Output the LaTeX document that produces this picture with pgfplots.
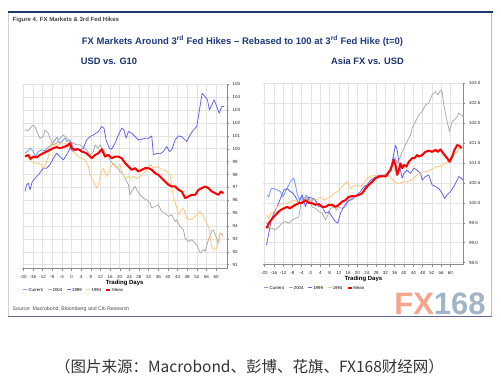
\documentclass[border=0pt]{standalone}
\usepackage{fontspec}
\setmainfont{Liberation Sans}
\newfontfamily\cjk{Noto Sans CJK SC}
\usepackage{pgfplots}
\pgfplotsset{compat=1.18}
\definecolor{curC}{HTML}{7BA3F0}
\definecolor{c99}{HTML}{6464F0}
\definecolor{c04}{HTML}{A8A8A8}
\definecolor{c94}{HTML}{FFC77A}
\definecolor{navy}{HTML}{1F3A7D}
\definecolor{gridc}{HTML}{E3E3E3}
\definecolor{axc}{HTML}{8C8C8C}
\definecolor{topline}{HTML}{1A3A6E}
\definecolor{fxorange}{HTML}{F2A68C}
\definecolor{fxblue}{HTML}{A2B5C7}
\pgfplotsset{fxstyle/.style={
  scale only axis, anchor=south west,
  axis x line*=bottom, axis y line*=right,
  grid=major, major grid style={gridc, line width=0.5pt},
  xtick={-20,-16,...,60},
  tick label style={font=\fontsize{4.5}{5}\selectfont, color=black!85},
  xticklabel style={yshift=-1.2pt},
  /pgf/number format/assume math mode=true,
  tick align=outside, major tick length=2pt,
  axis line style={axc, line width=0.5pt},
  tick style={axc, line width=0.4pt},
  xlabel={Trading Days},
  xlabel style={font=\fontsize{6}{7}\selectfont\bfseries, at={(axis description cs:0.5,0)}, anchor=center, yshift=-14.5pt},
  legend columns=-1,
  legend style={draw=none, fill=none, font=\fontsize{4.3}{5}\selectfont, anchor=west, inner sep=0pt,
     nodes={inner sep=0.8pt},
     /tikz/every odd column/.style={column sep=0pt},
     /tikz/every even column/.style={column sep=3.5pt}},
  legend image code/.code={\draw[#1] (0pt,1.5pt) -- (4pt,1.5pt);},
  every axis plot/.append style={line join=round},
}}
\begin{document}
\begin{tikzpicture}[x=1pt,y=1pt]
\path[use as bounding box] (0,0) rectangle (501,378);
% frame
\draw[black!18, line width=0.6pt] (8.3,366) -- (8.3,61);
\draw[black!25, line width=0.6pt] (491.7,366) -- (491.7,61);
\draw[topline, line width=2pt] (8,366.3) -- (492.5,366.3);
\draw[black!15!blue!20!gray, line width=1.2pt] (8,61.2) -- (492,61.2);
% texts
\node[anchor=west, font=\fontsize{6}{7}\selectfont\bfseries, color=black!75, inner sep=0pt] at (12.5,358) {Figure 4. FX Markets \& 3rd Fed Hikes};
\node[font=\fontsize{9.5}{10}\selectfont\bfseries, color=navy, inner sep=0pt] at (242.5,337) {FX Markets Around 3\textsuperscript{rd} Fed Hikes – Rebased to 100 at 3\textsuperscript{rd} Fed Hike (t=0)};
\node[font=\fontsize{9.3}{10}\selectfont\bfseries, color=navy!85!black, inner sep=0pt] at (109,316.5) {USD vs. G10};
\node[font=\fontsize{9.3}{10}\selectfont\bfseries, color=navy!85!black, inner sep=0pt] at (367.5,316.5) {Asia FX vs. USD};
\node[anchor=west, font=\fontsize{5.2}{6}\selectfont, color=black!70, inner sep=0pt] at (12.5,68.5) {Source: Macrobond, Bloomberg and Citi Research};
\node[font=\fontsize{31}{32}\selectfont\bfseries, inner sep=0pt] at (440,74) {\textcolor{fxorange}{FX}\textcolor{fxblue}{168}};
\node[font=\cjk\fontsize{15.5}{17}\selectfont, color=black!80, inner sep=0pt] at (249.5,11) {（图片来源：Macrobond、彭博、花旗、FX168财经网）};

% LEFT PANEL
\begin{axis}[fxstyle, at={(22.1pt,109.5pt)}, width=205.1pt, height=184.2pt,
  xmin=-20.5, xmax=64.6, ymin=90.7, ymax=105, ytick={91,92,...,105},
  legend style={at={(axis description cs:0,0)}, xshift=0.5pt, yshift=-22.5pt}]
\addplot[curC, line width=0.9pt] coordinates {(-19.31,99.65) (-17.92,99.86) (-16.96,100.04) (-15.85,99.78) (-14.88,99.39) (-13.77,99.78) (-12.39,99.91) (-11.00,99.86) (-9.62,100.12) (-8.24,100.30) (-6.85,100.68) (-5.88,100.89) (-5.05,100.43) (-4.08,100.56) (-2.70,100.81) (-2.01,100.56) (-1.04,100.68) (-0.21,100.56) (0.76,100.04) (1.45,99.86)};
\addlegendentry{Current}
\addplot[c04, line width=0.75pt] coordinates {(-19.31,101.46) (-17.92,101.41) (-16.54,101.72) (-15.85,101.85) (-15.16,101.72) (-13.77,101.07) (-13.08,100.81) (-11.70,100.94) (-11.00,101.46) (-9.62,101.20) (-8.93,100.81) (-7.54,100.30) (-6.16,100.43) (-4.78,100.81) (-3.39,101.07) (-2.01,100.81) (-0.62,100.56) (0.76,100.43) (2.15,100.30) (3.53,100.30) (4.91,100.12) (6.30,99.91) (7.68,99.52) (9.07,99.78) (9.76,100.30) (11.14,100.04) (11.83,100.30) (13.22,99.91) (14.60,99.52) (15.99,99.13) (17.37,98.75) (18.75,98.62) (20.14,98.23) (21.52,97.97) (22.21,97.71) (23.60,97.20) (24.29,96.42) (24.98,96.68) (26.37,97.07) (27.06,96.81) (28.44,96.42) (29.83,96.16) (31.21,96.03) (32.60,95.78) (33.29,95.39) (34.67,95.52) (36.06,95.65) (37.44,95.13) (38.82,95.00) (40.21,94.74) (41.59,94.87) (42.98,94.35) (43.67,94.48) (45.05,93.97) (46.44,93.71) (47.13,93.06) (48.51,92.80) (49.90,92.93) (51.28,92.67) (52.66,92.29) (53.36,91.90) (54.74,92.16) (55.43,92.03) (56.82,92.93) (58.20,93.58) (58.89,93.71) (59.58,93.32) (60.97,92.67) (61.66,93.45) (62.77,93.32)};
\addlegendentry{2004}
\addplot[c99, line width=0.8pt] coordinates {(-19.31,96.68) (-18.62,97.20) (-17.92,97.33) (-17.23,96.81) (-16.26,97.45) (-15.16,97.71) (-13.77,97.97) (-11.70,98.49) (-10.31,98.49) (-8.93,98.75) (-7.54,99.26) (-6.16,99.65) (-4.78,99.39) (-3.39,99.13) (-2.01,99.52) (-0.62,100.04) (0.76,99.78) (2.15,100.04) (3.53,99.91) (4.91,100.04) (6.30,100.68) (7.68,100.94) (9.07,101.07) (11.14,101.33) (12.53,101.72) (13.49,101.59) (14.33,100.68) (15.71,100.04) (16.68,99.96) (18.06,100.43) (19.45,101.07) (20.83,101.59) (21.80,101.46) (22.63,100.81) (23.60,101.33) (24.98,101.20) (26.37,100.94) (27.75,100.68) (29.13,100.74) (30.52,100.81) (31.90,100.81) (33.29,100.99) (33.98,99.52) (35.36,99.65) (36.75,99.60) (38.13,99.78) (39.52,100.17) (40.62,99.78) (41.59,99.91) (42.98,100.68) (44.36,100.99) (45.74,100.94) (47.13,100.68) (47.82,100.56) (49.20,101.07) (50.59,101.46) (51.97,101.72) (53.08,103.01) (54.19,104.30) (55.43,104.04) (56.40,103.79) (57.23,103.01) (58.20,103.40) (59.17,103.79) (60.28,103.27) (61.25,102.75) (62.35,103.27) (63.32,103.27)};
\addlegendentry{1999}
\addplot[c94, line width=0.8pt] coordinates {(-19.31,99.52) (-17.92,99.26) (-16.54,99.01) (-15.16,98.88) (-13.77,98.88) (-12.39,98.75) (-11.70,98.49) (-11.00,98.62) (-9.62,99.39) (-8.24,100.68) (-7.54,100.68) (-6.85,100.17) (-5.47,100.30) (-4.08,100.43) (-2.70,100.43) (-1.31,100.17) (0.07,100.04) (1.45,99.65) (2.84,99.39) (4.22,99.26) (5.61,99.13) (6.99,98.62) (7.68,97.97) (9.07,97.45) (10.45,96.94) (11.14,97.20) (11.83,97.84) (12.53,98.23) (13.22,98.49) (14.60,97.84) (15.99,98.49) (17.37,98.88) (18.75,98.49) (20.14,98.75) (20.83,98.23) (22.21,97.71) (23.60,97.84) (24.98,97.71) (25.67,97.84) (27.06,97.71) (28.44,97.84) (29.83,98.10) (31.21,98.36) (32.60,98.75) (33.98,98.49) (35.36,98.62) (36.75,98.49) (38.13,98.36) (39.52,98.23) (40.90,97.97) (41.59,97.07) (42.28,96.29) (43.67,95.39) (44.36,94.87) (45.74,95.26) (46.44,95.39) (47.82,94.61) (49.20,94.48) (50.59,94.61) (51.97,94.87) (53.36,95.13) (54.74,94.74) (56.12,94.22) (57.23,93.71) (57.92,92.55) (58.89,92.16) (60.28,92.29) (60.97,92.93) (61.66,93.45) (63.05,93.19)};
\addlegendentry{1994}
\addplot[red, line width=2pt] coordinates {(-19.31,99.39) (-17.92,99.52) (-16.96,99.21) (-15.85,99.39) (-14.46,99.32) (-13.08,99.52) (-11.70,99.65) (-10.31,99.78) (-8.93,99.91) (-7.54,100.04) (-6.16,100.12) (-4.78,100.04) (-3.39,100.12) (-2.01,100.22) (-0.62,100.43) (0.07,100.04) (1.45,99.91) (2.84,99.96) (4.22,99.78) (5.61,99.70) (6.99,99.52) (8.37,99.26) (9.76,99.52) (11.14,99.65) (12.53,99.96) (13.91,99.39) (15.29,99.52) (16.68,99.26) (18.06,99.39) (19.45,99.39) (20.83,99.26) (22.21,98.88) (23.60,98.62) (24.98,98.36) (26.37,98.49) (27.75,98.23) (29.13,98.36) (30.52,98.49) (31.90,98.49) (33.29,98.36) (34.67,98.10) (36.06,97.97) (37.44,97.71) (38.82,97.45) (40.21,97.20) (41.59,97.07) (42.98,97.07) (44.36,96.81) (45.74,96.68) (47.13,96.16) (48.51,96.29) (49.90,96.42) (51.28,96.42) (52.66,96.81) (54.05,96.94) (55.43,97.07) (56.82,96.94) (58.20,96.68) (59.58,96.55) (60.97,96.42) (61.94,96.68) (63.05,96.55)};
\addlegendentry{Mean}
\end{axis}

% RIGHT PANEL
\begin{axis}[fxstyle, at={(263.3pt,113.4pt)}, width=200.2pt, height=181.3pt,
  xmin=-20.5, xmax=65.6, ymin=98.45, ymax=103, ytick={98.5,99,...,103},
  yticklabel style={/pgf/number format/.cd, fixed, fixed zerofill, precision=1},
  legend style={at={(axis description cs:0,0)}, xshift=0.5pt, yshift=-24.5pt}]
\addplot[curC, line width=0.9pt] coordinates {(-18.85,100.20) (-18.14,100.15) (-17.13,100.36) (-15.99,100.36) (-14.55,100.32) (-13.12,100.28) (-12.11,100.15) (-10.97,100.28) (-9.53,100.45) (-8.53,100.57) (-7.38,100.62) (-6.67,100.45) (-5.95,100.24) (-4.95,100.07) (-3.80,100.20) (-3.08,99.99) (-2.08,100.20) (-0.93,100.11) (0.22,100.03) (1.22,100.11) (2.08,100.03)};
\addlegendentry{Current}
\addplot[c04, line width=0.75pt] coordinates {(-19.14,99.53) (-18.14,99.36) (-16.70,99.36) (-15.27,99.32) (-13.84,99.40) (-12.40,99.49) (-10.97,99.53) (-9.53,99.49) (-8.10,99.57) (-6.67,99.61) (-5.23,99.65) (-4.52,99.90) (-3.80,100.07) (-2.37,100.15) (-0.93,100.07) (0.50,99.90) (1.94,99.86) (3.37,99.78) (4.80,99.74) (6.24,99.57) (7.24,99.69) (8.39,99.86) (9.82,99.90) (10.97,99.82) (11.97,99.90) (13.41,99.86) (14.84,99.90) (16.27,100.07) (17.71,100.07) (19.14,100.15) (20.57,100.20) (22.01,100.24) (23.44,100.41) (24.87,100.45) (26.31,100.53) (27.74,100.62) (29.18,100.62) (30.61,100.66) (32.04,100.70) (33.48,100.74) (34.19,100.91) (34.91,100.95) (35.63,101.16) (36.34,101.12) (37.06,100.99) (37.78,101.08) (38.49,101.16) (39.21,101.28) (39.93,101.37) (41.36,101.54) (42.80,101.70) (43.51,101.87) (44.95,102.04) (46.38,102.21) (47.81,102.29) (49.25,102.46) (50.68,102.50) (52.11,102.71) (53.55,102.79) (54.55,102.71) (55.70,102.83) (56.42,102.79) (57.13,102.46) (57.85,102.25) (58.57,102.04) (59.57,101.79) (60.72,102.04) (61.72,102.08) (62.87,102.16) (63.58,102.25) (64.59,102.21) (65.45,102.16)};
\addlegendentry{2004}
\addplot[c99, line width=0.8pt] coordinates {(-19.14,98.94) (-18.14,99.23) (-17.13,99.57) (-15.99,99.74) (-14.55,99.90) (-13.12,100.11) (-11.68,100.32) (-10.25,100.36) (-8.82,100.28) (-7.67,100.24) (-6.67,100.15) (-5.23,99.99) (-3.80,100.20) (-2.37,99.90) (-0.93,100.15) (0.50,100.11) (1.94,100.07) (3.37,99.90) (4.80,99.90) (6.24,99.74) (7.67,99.78) (9.10,99.65) (10.54,99.53) (11.54,99.49) (12.69,99.74) (14.12,99.90) (15.56,100.03) (16.99,100.07) (18.42,100.15) (19.86,100.20) (21.29,100.28) (22.72,100.41) (24.16,100.45) (25.59,100.57) (27.03,100.62) (28.46,100.67) (29.89,100.70) (31.33,100.70) (32.76,100.66) (34.19,100.82) (35.34,101.16) (36.34,101.45) (37.06,101.33) (37.78,101.03) (38.49,100.82) (39.21,100.62) (39.93,100.74) (41.36,100.82) (42.80,100.74) (44.23,100.87) (45.66,100.82) (47.10,100.74) (47.81,100.57) (49.25,100.66) (50.68,100.70) (52.11,100.45) (53.55,100.41) (54.98,100.36) (56.42,100.24) (57.42,100.11) (58.57,100.20) (60.00,100.28) (61.43,100.41) (62.87,100.57) (63.58,100.66) (64.59,100.62) (65.45,100.57)};
\addlegendentry{1999}
\addplot[c94, line width=0.8pt] coordinates {(-19.14,99.69) (-18.14,99.61) (-17.13,99.74) (-15.99,99.78) (-14.55,99.90) (-13.12,99.95) (-11.68,99.99) (-10.25,99.99) (-8.82,100.03) (-7.38,100.07) (-5.95,100.03) (-4.52,99.99) (-3.08,100.07) (-1.65,100.03) (-0.22,100.07) (1.22,100.07) (2.65,100.09) (4.09,100.15) (5.52,100.07) (6.95,100.11) (8.39,100.15) (9.82,100.24) (11.25,100.28) (12.69,100.36) (14.12,100.45) (15.56,100.53) (16.27,100.47) (16.99,100.36) (18.42,100.41) (19.86,100.45) (21.29,100.41) (22.72,100.49) (24.16,100.62) (25.59,100.66) (27.03,100.70) (28.46,100.66) (29.89,100.62) (31.33,100.70) (32.76,100.70) (34.19,100.66) (35.63,100.53) (37.06,100.49) (38.49,100.49) (39.93,100.53) (41.36,100.53) (42.80,100.56) (44.23,100.62) (45.66,100.70) (47.10,100.74) (48.53,100.78) (49.96,100.78) (51.40,100.82) (52.83,100.87) (54.27,100.91) (55.70,100.92) (57.13,100.97) (58.57,101.03) (60.00,101.12) (61.43,101.20) (62.87,101.28) (64.30,101.41) (65.45,101.33)};
\addlegendentry{1994}
\addplot[red, line width=2pt] coordinates {(-19.14,99.36) (-18.14,99.49) (-17.13,99.57) (-15.99,99.65) (-14.55,99.74) (-13.12,99.82) (-11.68,99.86) (-10.25,99.90) (-9.10,99.86) (-8.10,99.90) (-6.67,99.95) (-5.23,99.99) (-3.80,100.00) (-2.37,100.07) (-0.93,100.00) (0.50,99.99) (1.94,99.95) (3.37,99.97) (4.80,99.90) (6.24,99.90) (7.67,99.95) (9.10,99.95) (10.54,99.90) (11.97,99.95) (13.41,100.03) (14.84,100.07) (16.27,100.15) (17.71,100.17) (19.14,100.17) (20.57,100.20) (22.01,100.24) (23.44,100.36) (24.87,100.45) (26.31,100.53) (27.74,100.62) (29.18,100.66) (30.61,100.67) (32.04,100.66) (33.48,100.78) (34.19,100.82) (35.63,101.08) (36.34,100.95) (37.06,100.70) (37.78,100.82) (38.49,100.99) (39.21,100.87) (39.93,100.95) (41.08,100.91) (42.08,101.03) (43.51,101.12) (44.52,101.12) (45.66,101.20) (46.38,101.16) (47.81,101.20) (49.25,101.28) (50.68,101.31) (52.11,101.28) (53.55,101.33) (54.55,101.28) (55.70,101.34) (56.42,101.28) (57.42,101.20) (58.57,101.12) (59.57,101.03) (60.72,101.16) (61.72,101.33) (62.87,101.45) (63.87,101.43) (64.73,101.37)};
\addlegendentry{Mean}
\end{axis}
\end{tikzpicture}
\end{document}
